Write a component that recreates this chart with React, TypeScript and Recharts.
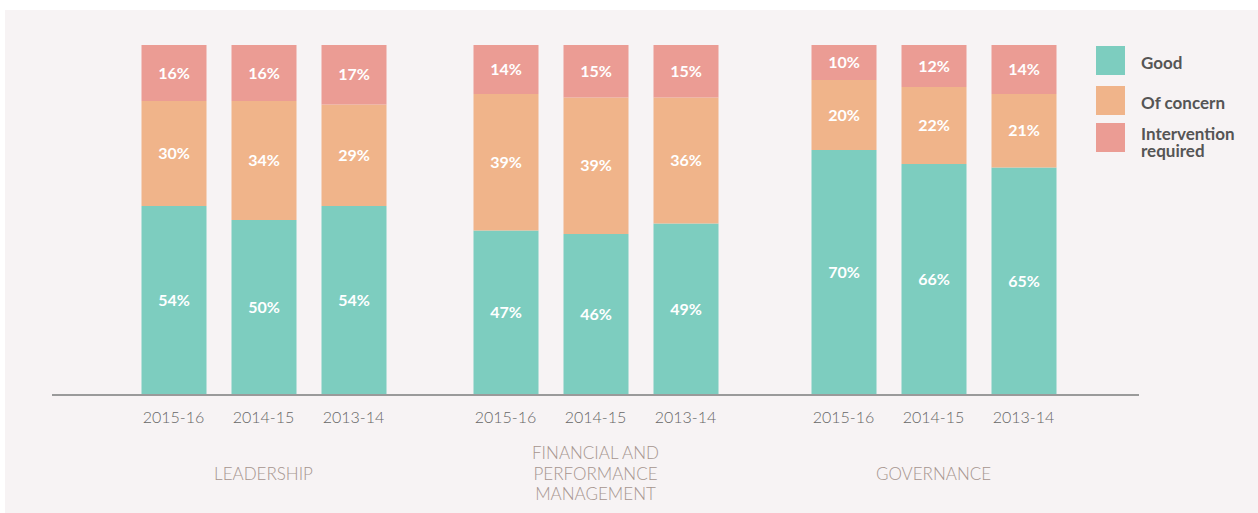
import React from 'react';
import { BarChart, Bar, XAxis, YAxis, LabelList } from 'recharts';

const years = ['2015-16', '2014-15', '2013-14'];
const groupLabels = [['LEADERSHIP'], ['FINANCIAL AND', 'PERFORMANCE', 'MANAGEMENT'], ['GOVERNANCE']];
const goodPct = [
  [54, 50, 54],
  [47, 46, 49],
  [70, 66, 65],
];
const concernPct = [
  [30, 34, 29],
  [39, 39, 36],
  [20, 22, 21],
];
const interventionPct = [
  [16, 16, 17],
  [14, 15, 15],
  [10, 12, 14],
];

const series = [
  { key: 'good', name: 'Good', color: '#7dcdbf' },
  { key: 'concern', name: 'Of concern', color: '#f0b48a' },
  { key: 'intervention', name: 'Intervention required', color: '#eb9c94' },
];

// where each group's chart sits (left edge, width, band padding on each side)
const layout = [
  { left: 52, width: 423, pad: 76.5 },
  { left: 455, width: 281, pad: 5.5 },
  { left: 728, width: 411, pad: 70.5 },
];

const FONT = 'Lato, "Open Sans", sans-serif';
const HEIGHT = 513;

const pct = (v: any) => `${v}%`;

function GroupChart({ idx }: { idx: number }) {
  const data = years.map((y, i) => ({
    year: y,
    good: goodPct[idx][i],
    concern: concernPct[idx][i],
    intervention: interventionPct[idx][i],
  }));
  const l = layout[idx];
  return (
    <div style={{ position: 'absolute', left: l.left, top: 0 }}>
      <BarChart
        width={l.width}
        height={HEIGHT}
        data={data}
        margin={{ top: 45, right: 0, left: 0, bottom: 88 }}
        barSize={65}
      >
        <XAxis
          dataKey="year"
          padding={{ left: l.pad, right: l.pad }}
          height={30}
          tickLine={false}
          tickSize={0}
          tickMargin={17}
          axisLine={{ stroke: '#9a9a9a', strokeWidth: 2 }}
          tick={{ fill: '#666666', fontSize: 16, fontFamily: FONT, fontWeight: 300 }}
        />
        <YAxis hide domain={[0, 100]} />
        {series.map((s) => (
          <Bar key={s.key} dataKey={s.key} stackId="a" fill={s.color} isAnimationActive={false}>
            <LabelList
              dataKey={s.key}
              position="center"
              formatter={pct}
              fill="#ffffff"
              style={{ fontFamily: FONT, fontWeight: 700, fontSize: 16 }}
            />
          </Bar>
        ))}
      </BarChart>
    </div>
  );
}

export default function App() {
  return (
    <div
      style={{
        position: 'absolute',
        left: 0,
        top: 0,
        width: 1258,
        height: HEIGHT,
        background: '#ffffff',
        overflow: 'hidden',
        fontFamily: FONT,
      }}
    >
      <div style={{ position: 'absolute', left: 5, top: 10, right: 0, bottom: 0, background: '#f7f3f4' }} />
      {layout.map((_, i) => (
        <GroupChart key={i} idx={i} />
      ))}
      {groupLabels.map((lines, i) => {
        const l = layout[i];
        return (
          <div
            key={i}
            style={{
              position: 'absolute',
              left: l.left,
              width: l.width,
              top: 474,
              transform: 'translateY(-50%)',
              textAlign: 'center',
              color: '#a6958f',
              fontSize: 17,
              fontWeight: 300,
              lineHeight: '20.5px',
            }}
          >
            {lines.map((t) => (
              <div key={t}>{t}</div>
            ))}
          </div>
        );
      })}
      <div style={{ position: 'absolute', left: 1096, top: 46 }}>
        {series.map((s, i) => (
          <div
            key={s.key}
            style={{ position: 'absolute', left: 0, top: [0, 40, 77][i], display: 'flex', alignItems: 'flex-start' }}
          >
            <div style={{ width: 29, height: 29, background: s.color, flexShrink: 0 }} />
            <div
              style={{
                marginLeft: 16,
                width: 100,
                color: '#555555',
                fontWeight: 700,
                fontSize: 17,
                lineHeight: '17px',
                marginTop: s.key === 'intervention' ? 2 : 8,
              }}
            >
              {s.name}
            </div>
          </div>
        ))}
      </div>
    </div>
  );
}
